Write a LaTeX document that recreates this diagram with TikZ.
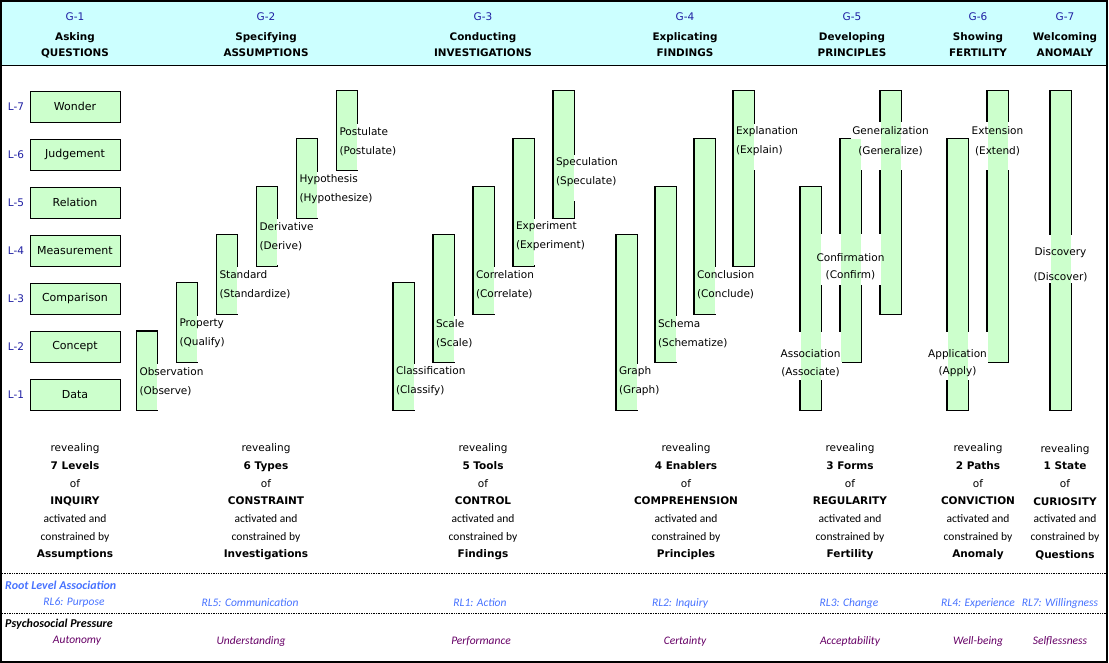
\documentclass[tikz,border=0pt]{standalone}
\usepackage{fontspec}
\setmainfont{DejaVu Sans}
\newfontfamily\carl{Carlito}
\usetikzlibrary{fit}
\definecolor{barfill}{HTML}{CCFFCC}
\definecolor{headfill}{HTML}{CCFFFF}
\definecolor{gblue}{HTML}{1F1FA3}
\definecolor{rlblue}{HTML}{4772FF}
\definecolor{ppurple}{HTML}{660066}
\newcommand\actfont{\carl\fontsize{11.5}{17.67}\selectfont}
\pgfdeclarelayer{edges}
\pgfdeclarelayer{gaps}
\pgfdeclarelayer{fills}
\pgfsetlayers{edges,gaps,fills,main}
\begin{document}
\begin{tikzpicture}[x=1pt,y=-1pt,
  lvl/.style={draw=black, line width=0.9pt, fill=barfill, minimum width=90pt, minimum height=30.5pt, inner sep=0pt, font=\fontsize{11}{13}\selectfont},
  lvlname/.style={text=gblue, inner sep=0pt, font=\fontsize{10.5}{12}\selectfont},
  bar/.style={fill=barfill, draw=none, inner sep=0pt},
  baredge/.style={draw=black, line width=1.8pt},
  gapfill/.style={fill=white},
  lblL/.style={anchor=west, align=left, inner sep=0.8pt, font=\fontsize{10.5}{19}\selectfont},
  lblC/.style={align=center, inner sep=1pt},
  ghead/.style={text=gblue, inner sep=0pt, font=\fontsize{10.5}{12}\selectfont},
  thead/.style={align=center, inner sep=0pt, font=\bfseries\fontsize{10.4}{16}\selectfont},
  reveal/.style={align=center, inner sep=0pt, font=\fontsize{10.5}{17.67}\selectfont},
  rlhead/.style={anchor=west, inner sep=0pt, text=rlblue, font=\carl\bfseries\itshape\fontsize{12}{14}\selectfont},
  rl/.style={inner sep=0pt, text=rlblue, font=\carl\itshape\fontsize{11.5}{14}\selectfont},
  pphead/.style={anchor=west, inner sep=0pt, text=black, font=\carl\bfseries\itshape\fontsize{12}{14}\selectfont},
  pp/.style={inner sep=0pt, text=ppurple, font=\carl\itshape\fontsize{11.5}{14}\selectfont},
  dotline/.style={line width=0.7pt, dash pattern=on 0.8pt off 0.9pt}
]
\useasboundingbox (0,0) rectangle (1109,663);
% header band and frame
\fill[headfill] (2,2) rectangle (1106,66);
\draw[line width=1pt] (2,66) -- (1106,66);
\draw[line width=2.2pt] (1.1,1.1) rectangle (1106.6,661.6);
\draw[dotline] (2,573) -- (1106,573);
\draw[dotline] (2,613) -- (1106,613);

% header texts
\foreach \n/\x/\g/\a/\b in {h1/75/G-1/Asking/QUESTIONS, h2/266/G-2/Specifying/ASSUMPTIONS, h3/483/G-3/Conducting/INVESTIGATIONS, h4/685/G-4/Explicating/FINDINGS, h5/852/G-5/Developing/PRINCIPLES, h6/978/G-6/Showing/FERTILITY, h7/1065/G-7/Welcoming/ANOMALY}{
  \node[ghead] (g\n) at (\x,17) {\g};
  \node[thead] (t\n) at (\x,45) {\a\\\b};
}

% level boxes
\foreach \k/\t in {7/Wonder,6/Judgement,5/Relation,4/Measurement,3/Comparison,2/Concept,1/Data}{
  \node[lvl] (lv\k) at (75,{106.75+(7-\k)*48}) {\t};
  \node[lvlname] (ln\k) at (16,{106.75+(7-\k)*48}) {L-\k};
}

% bars
\foreach \n/\x/\lo/\hi in {bObs/137/1/2, bPro/177/2/3, bSta/217/3/4, bDer/257/4/5, bHyp/297/5/6, bPos/337/6/7,
  bCla/393.5/1/3, bSca/433.5/2/4, bCor/473.5/3/5, bExp/513.5/4/6, bSpe/553.5/5/7,
  bGra/616.5/1/4, bSch/655.5/2/5, bCon/694.5/3/6, bExl/733.5/4/7,
  bAss/800.5/1/5, bCnf/840.5/2/6, bGen/880.5/3/7,
  bApp/947.5/1/6, bExt/987.5/2/7, bDis/1050.5/1/7}{
  \pgfmathsetmacro\yt{91.5+(7-\hi)*48}
  \pgfmathsetmacro\yb{122+(7-\lo)*48}
  \pgfmathsetmacro\xr{\x+20}
  \begin{pgfonlayer}{fills}
    \node[bar, fit={(\x,\yt) (\xr,\yb)}] (\n) {};
  \end{pgfonlayer}
  \begin{pgfonlayer}{edges}
    \draw[baredge] (\n.south west) rectangle (\n.north east);
  \end{pgfonlayer}
}

% left-aligned labels
\foreach \n/\x/\y/\t/\u in {lObs/138.5/381.3/Observation/Observe, lPro/178.5/333.5/Property/Qualify, lSta/218.5/285/Standard/Standardize, lDer/258.5/236.5/Derivative/Derive, lHyp/298.5/189.5/Hypothesis/Hypothesize, lPos/338.5/141.3/Postulate/Postulate,
  lCla/395/381.3/Classification/Classify, lSca/435/333.5/Scale/Scale, lCor/475/285/Correlation/Correlate, lExp/515/236.5/Experiment/Experiment, lSpe/555/172.3/Speculation/Speculate,
  lGra/618/381.3/Graph/Graph, lSch/657/333.5/Schema/Schematize, lCon/696/285/Conclusion/Conclude, lExl/735/141.3/Explanation/Explain}{
  \node[lblL] (\n) at (\x,\y) {\t\\(\u)};
  \pgfmathsetmacro\ga{\y-17.5}
  \pgfmathsetmacro\gb{\y+28.5}
  \begin{pgfonlayer}{gaps}
    \fill[gapfill] (\n.west |- 0,\ga) rectangle (\n.east |- 0,\gb);
  \end{pgfonlayer}
}

% centred labels
\foreach \n/\x/\y/\t/\u/\bs/\ga/\gb in {cAss/810.5/363.5/Association/Associate/18.4/332/380, cCnf/850.5/267/Confirmation/Confirm/16.6/234/285, cGen/890.5/141.3/Generalization/Generalize/19.3/122/170, cApp/957.5/363.2/Application/Apply/17.7/332/380, cExt/997.5/141.3/Extension/Extend/19.3/122/170, cDis/1060.5/265.2/Discovery/Discover/25/235/283}{
  \node[lblC, font={\fontsize{10.5}{\bs}\selectfont}] (\n) at (\x,\y) {\t\\(\u)};
  \begin{pgfonlayer}{gaps}
    \fill[gapfill] (\n.west |- 0,\ga) rectangle (\n.east |- 0,\gb);
  \end{pgfonlayer}
}

% bottom blocks
\foreach \n/\x/\num/\cat/\by in {r1/75/7 Levels/INQUIRY/Assumptions, r2/266/6 Types/CONSTRAINT/Investigations, r3/483/5 Tools/CONTROL/Findings, r4/686/4 Enablers/COMPREHENSION/Principles, r5/850/3 Forms/REGULARITY/Fertility, r6/978/2 Paths/CONVICTION/Anomaly, r7/1065/1 State/CURIOSITY/Questions}{
  \node[reveal] (\n) at (\x,502) {revealing\\\textbf{\num}\\of\\\textbf{\cat}\\{\actfont activated and}\\{\actfont constrained by}\\\textbf{\by}};
}

% footer
\node[rlhead] (rlh) at (5,585) {Root Level Association};
\foreach \n/\x/\t in {rl6/74/RL6: Purpose, rl5/250/RL5: Communication, rl1/480/RL1: Action, rl2/680/RL2: Inquiry, rl3/849/RL3: Change, rl4/978/RL4: Experience, rl7/1060/RL7: Willingness}{
  \node[rl] (\n) at (\x,603) {\t};
}
\node[pphead] (pph) at (5,624) {Psychosocial Pressure};
\foreach \n/\x/\t in {p1/77/Autonomy, p2/251/Understanding, p3/481/Performance, p4/685/Certainty, p5/850/Acceptability, p6/978/Well-being, p7/1060/Selflessness}{
  \node[pp] (\n) at (\x,641) {\t};
}
\end{tikzpicture}
\end{document}
